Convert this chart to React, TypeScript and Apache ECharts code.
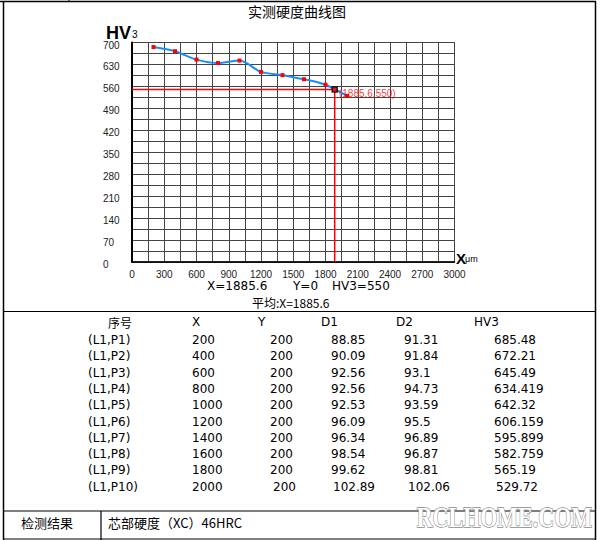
import React, { useEffect, useRef } from "react";
import * as echarts from "echarts";

const xPositions = [200, 400, 600, 800, 1000, 1200, 1400, 1600, 1800, 2000];
const hv3Values = [685.48, 672.21, 645.49, 634.419, 642.32, 606.159, 595.899, 582.759, 565.19, 529.72];
const pointLabels = ["(L1,P1)", "(L1,P2)", "(L1,P3)", "(L1,P4)", "(L1,P5)", "(L1,P6)", "(L1,P7)", "(L1,P8)", "(L1,P9)", "(L1,P10)"];
const yPositions = [200, 200, 200, 200, 200, 200, 200, 200, 200, 200];
const d1Values = [88.85, 90.09, 92.56, 92.56, 92.53, 96.09, 96.34, 98.54, 99.62, 102.89];
const d2Values = [91.31, 91.84, 93.1, 94.73, 93.59, 95.5, 96.89, 96.87, 98.81, 102.06];
const tableHeaders = ["序号", "X", "Y", "D1", "D2", "HV3"];
const markX = 1885.6;
const markY = 0;
const markHV = 550;
const xMax = 3000;
const yMax = 700;

const LAT = "'DejaVu Sans', 'Noto Sans CJK SC', sans-serif";
const CJK = "'Noto Sans CJK SC', 'DejaVu Sans', sans-serif";

export default function App() {
  const ref = useRef<HTMLDivElement>(null);
  useEffect(() => {
    if (!ref.current) return;
    const chart = echarts.init(ref.current, undefined, { renderer: "svg" });

    const g: any[] = [];
    const line = (x1: number, y1: number, x2: number, y2: number, w = 1) =>
      g.push({ type: "line", shape: { x1, y1, x2, y2 }, style: { stroke: "#000", lineWidth: w }, silent: true });
    const text = (x: number, y: number, t: string, font: string, fill = "#000", align = "left", lh = 14) =>
      g.push({ type: "text", x, y, style: { text: t, font, fill, align, verticalAlign: "middle", lineHeight: lh }, silent: true });

    // frame
    line(0, 1.5, 596, 1.5, 1.5);
    line(69, 0, 69, 2, 1);
    line(3.5, 1.5, 3.5, 540, 1.5);
    line(595.5, 1.5, 595.5, 540, 1.5);
    line(3, 311.5, 596, 311.5, 1.2);
    line(3, 511, 596, 511, 1.2);
    line(3, 539, 596, 539, 1.2);
    line(101, 511, 101, 540, 1.2);

    // titles
    text(297, 11, "实测硬度曲线图", `14px ${CJK}`, "#000", "center", 16);
    text(106, 33, "HV", `bold 18px 'Liberation Sans', sans-serif`, "#000", "left", 11);
    text(132, 34, "3", `10px 'Liberation Sans', sans-serif`, "#000", "left", 10);
    text(456, 258, "X", `bold 15px 'Liberation Sans', sans-serif`, "#000", "left", 12);
    text(465, 259, "μm", `9px 'Liberation Sans', sans-serif`, "#000", "left", 10);

    text(207, 286, `X=${markX}`, `12px ${LAT}`, "#000", "left", 12);
    text(293, 286, `Y=${markY}`, `12px ${LAT}`, "#000", "left", 12);
    text(332, 286, `HV3=${markHV}`, `12px ${LAT}`, "#000", "left", 12);
    text(252, 302.5, `平均:X=${markX}`, `12px ${CJK}`, "#000", "left", 13);

    // table
    const hdrX = [108, 192, 258, 321, 396, 474];
    const colX = [88, 192, 270, 331, 404, 494];
    tableHeaders.forEach((h, i) => text(hdrX[i], 322, h, `12px ${i === 0 ? CJK : LAT}`, "#000", "left"));
    pointLabels.forEach((lab, r) => {
      const y = 340 + r * 16.3;
      const row = [lab, String(xPositions[r]), String(yPositions[r]), String(d1Values[r]), String(d2Values[r]), String(hv3Values[r])];
      const shift = r === 9 ? [0, 0, 3, 2, 4, 2] : [0, 0, 0, 0, 0, 0];
      row.forEach((v, i) => text(colX[i] + shift[i], y, v, `12px ${LAT}`, "#000", "left"));
    });

    text(47, 522.5, "检测结果", `13px ${CJK}`, "#000", "center", 15);
    text(108, 522.5, "芯部硬度（XC）46HRC", `13px ${CJK}`, "#000", "left", 15);
    text(47, 545, "备注", `13px ${CJK}`, "#000", "center", 15);

    // watermark
    g.push({
      type: "text",
      x: 592,
      y: 517,
      scaleY: 1.3,
      silent: true,
      style: {
        text: "RCLHOME.COM",
        font: "bold 22px 'Liberation Serif', serif",
        fill: "#ffffff",
        stroke: "#8c8c8c",
        lineWidth: 1,
        align: "right",
        verticalAlign: "middle",
      },
    });

    const mainData = xPositions.map((x, i) => [x, hv3Values[i]]);

    chart.setOption({
      animation: false,
      backgroundColor: "#fff",
      grid: { left: 132, top: 42.5, width: 322.5, height: 219.5, show: true, borderColor: "#000", borderWidth: 1 },
      xAxis: {
        type: "value",
        min: 0,
        max: xMax,
        interval: 150,
        axisLine: { show: true, lineStyle: { color: "#000", width: 1.5 } },
        axisTick: { show: false },
        splitLine: { show: true, lineStyle: { color: "#444", width: 1 } },
        axisLabel: {
          margin: 7,
          color: "#222",
          fontSize: 10,
          lineHeight: 10,
          fontFamily: "'Liberation Sans', sans-serif",
          formatter: (v: number) => (v % 300 === 0 ? String(v) : ""),
        },
      },
      yAxis: {
        type: "value",
        min: 0,
        max: yMax,
        interval: 35,
        axisLine: { show: true, lineStyle: { color: "#000", width: 2 } },
        axisTick: { show: false },
        splitLine: { show: true, lineStyle: { color: "#444", width: 1 } },
        axisLabel: {
          margin: 29,
          align: "left",
          verticalAlign: "top",
          lineHeight: 5,
          color: "#222",
          fontSize: 10,
          fontFamily: "'Liberation Sans', sans-serif",
          formatter: (v: number) => (v % 70 === 0 ? String(v) : ""),
        },
      },
      series: [
        {
          type: "line",
          data: [[0, markHV], [markX, markHV]],
          symbol: "none",
          lineStyle: { color: "#ff0000", width: 1.5 },
          z: 3,
        },
        {
          type: "line",
          data: [[markX, markHV], [markX, 0]],
          symbol: "none",
          lineStyle: { color: "#ff0000", width: 1.5 },
          z: 3,
        },
        {
          type: "line",
          data: mainData,
          smooth: 0.3,
          symbol: "rect",
          symbolSize: 4,
          itemStyle: { color: "#ff0000" },
          lineStyle: { color: "#1a8cff", width: 2 },
          z: 4,
        },
        {
          type: "scatter",
          data: [[markX, markHV]],
          symbol: "rect",
          symbolSize: 5,
          itemStyle: { color: "#ff0000", borderColor: "#000", borderWidth: 1.5 },
          label: {
            show: true,
            position: "right",
            distance: 1,
            offset: [0, 4],
            formatter: `(${markX},${markHV})`,
            color: "#ff0000",
            fontSize: 10,
            fontFamily: "'Liberation Sans', sans-serif",
          },
          z: 5,
        },
      ],
      graphic: g,
    });

    return () => chart.dispose();
  }, []);

  return (
    <div
      ref={ref}
      style={{ position: "absolute", left: 0, top: 0, width: 600, height: 540, background: "#fff" }}
    />
  );
}
